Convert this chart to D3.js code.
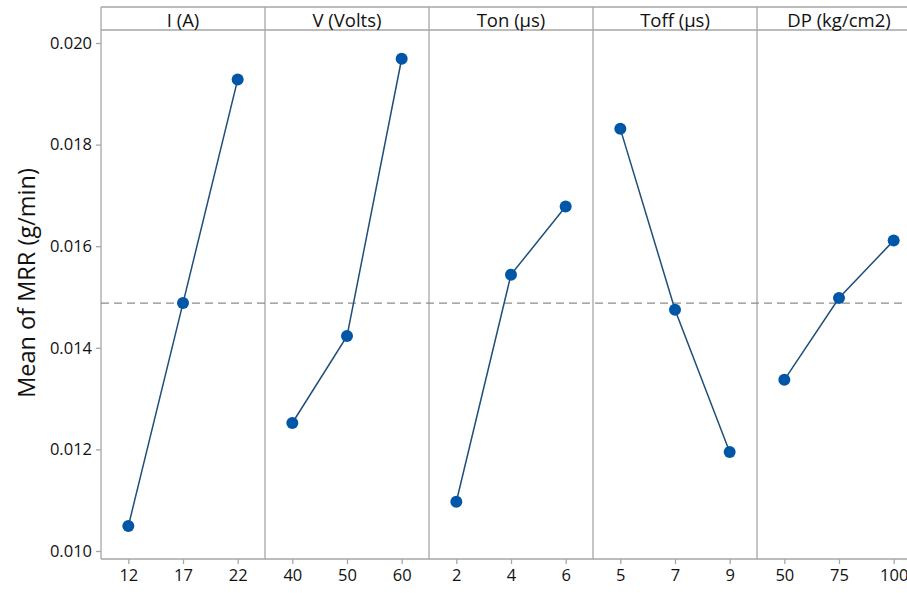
<!DOCTYPE html>
<html>
<head>
<meta charset="utf-8">
<script src="https://cdn.jsdelivr.net/npm/d3@7"></script>
<style>
  html, body { margin: 0; padding: 0; background: #fff; }
  svg { display: block; }
  text { font-family: "Open Sans", "Noto Sans", sans-serif; fill: #111; }
</style>
</head>
<body>
<svg id="chart" width="907" height="593"></svg>
<script>
// ---- data ----
const factors = ["I (A)", "V (Volts)", "Ton (µs)", "Toff (µs)", "DP (kg/cm2)"];
const levelsI = ["12", "17", "22"];
const levelsV = ["40", "50", "60"];
const levelsTon = ["2", "4", "6"];
const levelsToff = ["5", "7", "9"];
const levelsDP = ["50", "75", "100"];
const meansI = [0.01049, 0.01488, 0.01928];
const meansV = [0.01252, 0.01423, 0.01969];
const meansTon = [0.01097, 0.01544, 0.01678];
const meansToff = [0.01831, 0.01475, 0.01195];
const meansDP = [0.01337, 0.01498, 0.01611];
const grandMean = 0.01488;
const yTicks = [0.010, 0.012, 0.014, 0.016, 0.018, 0.020];
const yTitle = "Mean of MRR (g/min)";

const panels = [
  { name: factors[0], levels: levelsI, means: meansI },
  { name: factors[1], levels: levelsV, means: meansV },
  { name: factors[2], levels: levelsTon, means: meansTon },
  { name: factors[3], levels: levelsToff, means: meansToff },
  { name: factors[4], levels: levelsDP, means: meansDP }
];

// ---- layout ----
const left = 101, panelW = 164, frameTop = 7, headerBottom = 30, axisBottom = 559;
const frameColor = "#a6a6a6";
const lineColor = "#1f4e79";
const dotColor = "#0057a8";

const svg = d3.select("#chart");
const y = d3.scaleLinear().domain([0.010, 0.020]).range([551, 43]);
const px = d3.scaleBand().domain(factors).range([left, left + panelW * factors.length]);

// frame
const frame = svg.append("g");
[frameTop, headerBottom, axisBottom].forEach(yy => {
  frame.append("line").attr("x1", left).attr("x2", left + panelW * 5).attr("y1", yy).attr("y2", yy)
    .attr("stroke", frameColor).attr("stroke-width", 1.3);
});
for (let i = 0; i <= factors.length; i++) {
  const xx = left + panelW * i;
  frame.append("line").attr("x1", xx).attr("x2", xx).attr("y1", frameTop).attr("y2", axisBottom)
    .attr("stroke", frameColor).attr("stroke-width", 1.3);
}

// mean dashed line
svg.append("line")
  .attr("x1", left).attr("x2", left + panelW * 5)
  .attr("y1", y(grandMean)).attr("y2", y(grandMean))
  .attr("stroke", "#8c8c8c").attr("stroke-width", 1.2).attr("stroke-dasharray", "8,5");

// y axis
const yAxis = d3.axisLeft(y).tickValues(yTicks).tickFormat(d3.format(".3f")).tickSize(5).tickPadding(4);
const gy = svg.append("g").attr("transform", `translate(${left},0)`).call(yAxis);
gy.select(".domain").remove();
gy.selectAll(".tick line").attr("stroke", frameColor).attr("stroke-width", 1.3);
gy.selectAll(".tick text").style("font-size", "16.5px").attr("fill", "#111");

// y title
svg.append("text")
  .attr("transform", `translate(35,283) rotate(-90)`)
  .attr("text-anchor", "middle")
  .style("font-size", "23.5px")
  .text(yTitle);

// panels
panels.forEach(p => {
  const x0 = px(p.name);
  const x = d3.scalePoint().domain(p.levels).range([x0, x0 + panelW]).padding(0.5);
  const g = svg.append("g");

  g.append("text")
    .attr("x", x0 + panelW / 2).attr("y", 26.5)
    .attr("text-anchor", "middle")
    .style("font-size", "18.5px")
    .text(p.name);

  const xAxis = d3.axisBottom(x).tickSize(5).tickPadding(5);
  const gx = g.append("g").attr("transform", `translate(0,${axisBottom})`).call(xAxis);
  gx.select(".domain").remove();
  gx.selectAll(".tick line").attr("stroke", frameColor).attr("stroke-width", 1.3);
  gx.selectAll(".tick text").style("font-size", "16.5px").attr("fill", "#111");

  const pts = p.levels.map((l, i) => ({ l, v: p.means[i] }));
  g.append("path")
    .datum(pts)
    .attr("fill", "none")
    .attr("stroke", lineColor)
    .attr("stroke-width", 1.5)
    .attr("d", d3.line().x(d => x(d.l)).y(d => y(d.v)));
  g.selectAll("circle").data(pts).join("circle")
    .attr("cx", d => x(d.l)).attr("cy", d => y(d.v)).attr("r", 6)
    .attr("fill", dotColor);
});
</script>
</body>
</html>
